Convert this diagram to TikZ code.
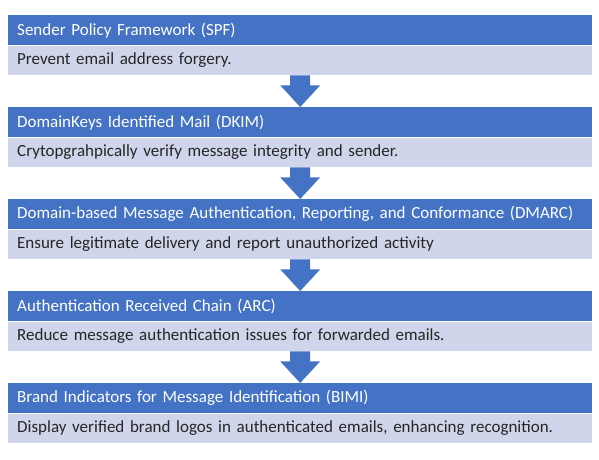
\documentclass[tikz,border=0pt]{standalone}
\usepackage{fontspec}
\setmainfont{Carlito}
\definecolor{hdr}{HTML}{4472C4}
\definecolor{bdy}{HTML}{CFD5EA}
\begin{document}
\begin{tikzpicture}[x=1pt,y=-1pt,
  hdrbox/.style={fill=hdr,draw=none,minimum width=584pt,minimum height=30pt,anchor=north west,inner sep=0pt,text=white,font=\fontsize{17}{20}\selectfont,align=left,text width=566pt,inner xsep=9pt},
  bdybox/.style={fill=bdy,draw=none,minimum width=584pt,minimum height=29.5pt,anchor=north west,inner sep=0pt,text=black!85,font=\fontsize{17}{20}\selectfont,align=left,text width=566pt,inner xsep=9pt},
  downarrow/.style={fill=hdr,draw=none}]
\useasboundingbox (0,0) rectangle (599,459);
\fill[white] (0,0) rectangle (599,459);
\foreach \i/\h/\b in {0/{Sender Policy Framework (SPF)}/{Prevent email address forgery.},
  1/{DomainKeys Identified Mail (DKIM)}/{Crytopgrahpically verify message integrity and sender.},
  2/{Domain-based Message Authentication, Reporting, and Conformance (DMARC)}/{Ensure legitimate delivery and report unauthorized activity},
  3/{Authentication Received Chain (ARC)}/{Reduce message authentication issues for forwarded emails.},
  4/{Brand Indicators for Message Identification (BIMI)}/{Display verified brand logos in authenticated emails, enhancing recognition.}}{
  \node[hdrbox] (h\i) at (8,{15+92*\i}) {\h};
  \node[bdybox] (b\i) at (h\i.south west) {\b};
}
\foreach \i [evaluate=\i as \j using int(\i+1)] in {0,1,2,3}{
  \fill[downarrow] ([xshift=-10pt]b\i.south) -- ([xshift=10pt]b\i.south)
    -- ([xshift=10pt,yshift=-10pt]b\i.south) -- ([xshift=20pt,yshift=-10pt]b\i.south)
    -- (h\j.north) -- ([xshift=-20pt,yshift=-10pt]b\i.south)
    -- ([xshift=-10pt,yshift=-10pt]b\i.south) -- cycle;
}
\end{tikzpicture}
\end{document}
